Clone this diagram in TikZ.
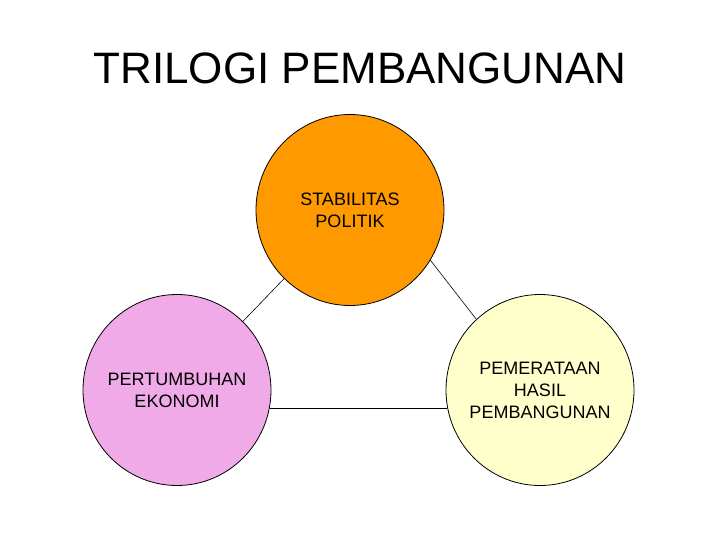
\documentclass[tikz,border=0pt]{standalone}
\usepackage{fontspec}
\setmainfont{Liberation Sans}
\usetikzlibrary{shapes.geometric}
\definecolor{orng}{RGB}{255,153,0}
\definecolor{pnk}{RGB}{240,170,232}
\definecolor{ylw}{RGB}{255,255,204}
\begin{document}
\begin{tikzpicture}[x=1pt,y=-1pt,
  bubble/.style={ellipse,draw=black,line width=0.8pt,minimum width=188pt,minimum height=191pt,inner sep=0pt},
  caption/.style={align=center,inner sep=0pt,font=\fontsize{18}{22}\selectfont},
  link/.style={draw=black,line width=0.6pt}]
\useasboundingbox (0,0) rectangle (720,540);
\node (title) at (360,68) {\fontsize{44}{48}\selectfont TRILOGI PEMBANGUNAN};
\node[bubble,fill=orng] (top) at (350,210) {};
\node[bubble,fill=pnk] (left) at (177,390) {};
\node[bubble,fill=ylw] (right) at (540,390) {};
\node[caption] (topt) at (top.center) {STABILITAS\\POLITIK};
\node[caption] (leftt) at (left.center) {PERTUMBUHAN\\EKONOMI};
\node[caption] (rightt) at (right.center) {PEMERATAAN\\HASIL\\PEMBANGUNAN};
\draw[link] (top) -- (left);
\draw[link] (top.-32) -- (right.132);
\draw[link] (left.-11) -- (right.191);
\end{tikzpicture}
\end{document}
